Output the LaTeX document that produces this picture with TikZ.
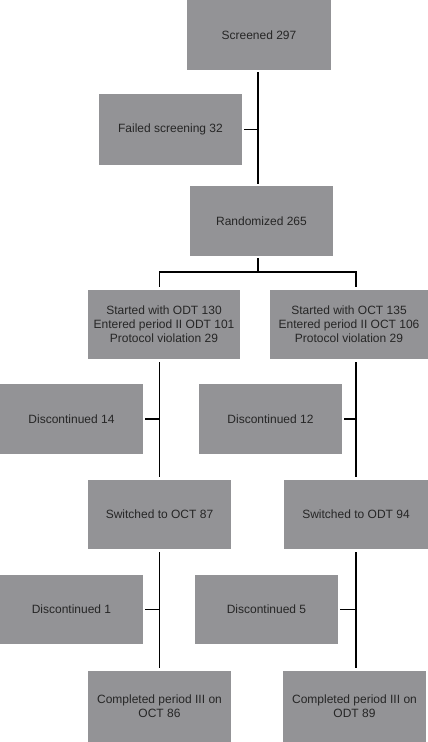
\documentclass[tikz,border=0pt]{standalone}
\usepackage{fontspec}
\setmainfont{Liberation Sans}
\definecolor{boxgray}{HTML}{939396}
\definecolor{txtdark}{HTML}{262626}
\tikzset{
  box/.style={rectangle, fill=boxgray, draw=none, inner sep=0pt, align=center, minimum width=143pt, minimum height=70pt, font=\fontsize{12}{14}\selectfont, text=txtdark},
  link/.style={draw=black, line width=1.5pt},
}

\begin{document}
\begin{tikzpicture}[x=1pt,y=-1pt]
  \useasboundingbox (0,0) rectangle (428,742);
  \node[box, minimum width=144pt] (scr) at (259,35) {Screened 297};
  \node[box, minimum height=71pt] (fail) at (170.5,129.5) {Failed screening 32};
  \node[box] (rnd) at (261.5,221) {Randomized 265};
  \node[box, minimum width=152pt, minimum height=69pt] (sodt) at (164,324.5) {Started with ODT 130\\Entered period II ODT 101\\Protocol violation 29};
  \node[box, minimum width=158pt, minimum height=69pt] (soct) at (349,324.5) {Started with OCT 135\\Entered period II OCT 106\\Protocol violation 29};
  \node[box] (d14) at (71.5,419) {Discontinued 14};
  \node[box] (d12) at (270.5,419) {Discontinued 12};
  \node[box, minimum height=69pt] (swoct) at (159.5,514.5) {Switched to OCT 87};
  \node[box, minimum width=144pt, minimum height=69pt] (swodt) at (356,514.5) {Switched to ODT 94};
  \node[box, minimum height=69pt] (d1) at (71.5,609.5) {Discontinued 1};
  \node[box, minimum height=69pt] (d5) at (266.5,609.5) {Discontinued 5};
  \node[box, minimum height=71pt] (coct) at (159.5,706.5) {Completed period III on\\OCT 86};
  \node[box, minimum height=71pt] (codt) at (354.5,706.5) {Completed period III on\\ODT 89};
  \coordinate (br) at (258,272);
  \draw[link, shorten <=2pt, shorten >=2pt] (scr.south -| br) -- (rnd.north -| br);
  \draw[link, shorten <=2pt] (fail.east) -- (fail.east -| br);
  \draw[link, shorten <=2pt] (rnd.south -| br) -- (br);
  \draw[link, shorten <=3pt, shorten >=3pt] (swoct |- sodt.north) |- (swodt |- br) -- (swodt |- soct.north);
  \draw[link, shorten <=3pt, shorten >=3pt] (swoct |- sodt.south) -- (swoct.north);
  \draw[link, shorten <=2pt] (d14.east) -- (d14.east -| swoct);
  \draw[link, shorten <=3pt, shorten >=3pt] (swodt |- soct.south) -- (swodt.north);
  \draw[link, shorten <=2pt] (d12.east) -- (d12.east -| swodt);
  \draw[link, shorten <=3pt, shorten >=3pt] (swoct.south) -- (swoct |- coct.north);
  \draw[link, shorten <=2pt] (d1.east) -- (d1.east -| swoct);
  \draw[link, shorten <=3pt, shorten >=3pt] (swodt.south) -- (swodt |- codt.north);
  \draw[link, shorten <=2pt] (d5.east) -- (d5.east -| swodt);
\end{tikzpicture}
\end{document}
